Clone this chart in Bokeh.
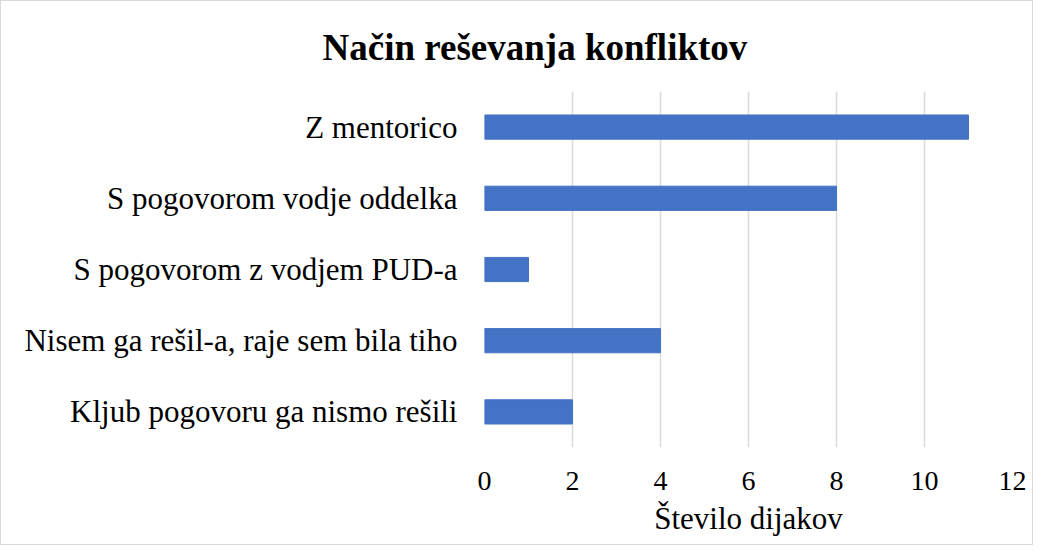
from bokeh.plotting import figure
from bokeh.models import Range1d, FactorRange, FixedTicker
from bokeh.embed import file_html
from bokeh.resources import INLINE

categories = [
    "Z mentorico",
    "S pogovorom vodje oddelka",
    "S pogovorom z vodjem PUD-a",
    "Nisem ga rešil-a, raje sem bila tiho",
    "Kljub pogovoru ga nismo rešili",
]
values = [11, 8, 1, 4, 2]
x_ticks = [0, 2, 4, 6, 8, 10, 12]
title_text = "Način reševanja  konfliktov"
x_label = "Število dijakov"

FONT = "'Liberation Serif', 'Times New Roman', serif"

p = figure(
    width=1033, height=545,
    y_range=FactorRange(factors=list(reversed(categories)), range_padding=0),
    x_range=Range1d(0, 12),
    output_backend="svg", toolbar_location=None,
    min_border_left=483, min_border_right=22,
    min_border_top=90, min_border_bottom=99,
)
p.styles = {"border": "1px solid #D9D9D9"}

p.hbar(y=categories, right=values, left=0, height=0.34, color="#4472C4")

p.title.text = title_text
p.title.text_font = FONT
p.title.text_font_size = "37px"
p.title.text_font_style = "bold"
p.title.text_color = "#000000"
p.title.align = "left"
p.title.offset = -162
p.title.standoff = 47

p.outline_line_color = None
p.background_fill_color = "white"
p.border_fill_color = "white"

p.ygrid.grid_line_color = None
p.xgrid.grid_line_color = "#D9D9D9"
p.xgrid.grid_line_width = 1.5
p.xaxis.ticker = FixedTicker(ticks=x_ticks)

for ax in (p.xaxis, p.yaxis):
    ax.axis_line_color = None
    ax.major_tick_line_color = None
    ax.minor_tick_line_color = None
    ax.major_label_text_font = FONT
    ax.major_label_text_color = "#000000"

p.yaxis.major_label_text_font_size = "31px"
p.yaxis.major_label_standoff = 21
p.xaxis.major_label_text_font_size = "28px"
p.xaxis.major_label_standoff = 18
p.xaxis.axis_label = x_label
p.xaxis.axis_label_text_font = FONT
p.xaxis.axis_label_text_font_size = "31px"
p.xaxis.axis_label_text_font_style = "normal"
p.xaxis.axis_label_text_color = "#000000"
p.xaxis.axis_label_standoff = 8

open("out.html", "w").write(file_html(p, INLINE))
